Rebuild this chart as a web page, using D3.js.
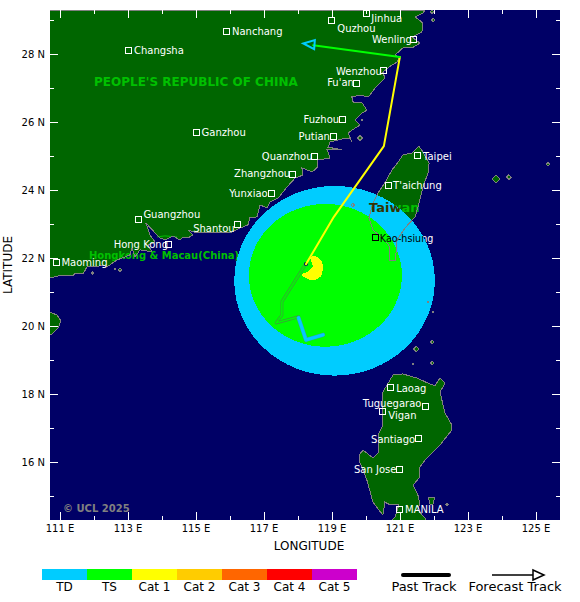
<!DOCTYPE html>
<html><head><meta charset="utf-8">
<script src="https://cdnjs.cloudflare.com/ajax/libs/d3/7.8.5/d3.min.js"></script>
<style>
html,body{margin:0;padding:0;background:#fff}
svg{display:block}
text{font-family:"DejaVu Sans",sans-serif}
</style></head><body>
<script>
// ---------- DATA (degrees) ----------
const mainland=[[110.72,21.41],[111.07,21.5],[111.4,21.47],[111.46,21.56],[111.69,21.53],[111.81,21.74],[112.04,21.74],[112.28,21.79],[112.4,21.74],[112.69,21.94],[113.07,22.09],[113.13,22.29],[113.22,22.03],[113.37,22.24],[113.72,22.18],[113.6,22.38],[113.81,22.47],[113.66,22.68],[113.54,23.03],[113.81,22.74],[113.96,22.59],[114.1,22.53],[114.34,22.65],[114.54,22.53],[114.6,22.59],[114.78,22.59],[114.93,22.68],[114.78,22.82],[115.04,22.74],[115.37,22.74],[115.63,22.74],[116.07,22.76],[116.31,22.88],[116.54,22.97],[116.6,23.18],[116.81,23.21],[116.9,23.56],[117.1,23.47],[117.19,23.65],[117.43,23.76],[117.69,24.09],[117.93,24.35],[118.16,24.44],[118.13,24.65],[118.43,24.53],[118.6,24.68],[118.6,24.88],[118.96,24.94],[118.87,25.18],[119.31,25.18],[118.9,25.26],[118.96,25.41],[119.31,25.5],[119.54,25.53],[119.6,25.41],[119.49,25.68],[119.69,25.82],[119.84,25.91],[119.69,26.06],[119.9,26.26],[120.04,26.35],[119.9,26.56],[119.63,26.59],[119.6,26.74],[119.84,26.79],[120.07,26.74],[120.13,26.79],[120.28,27.0],[120.43,27.15],[120.57,27.29],[120.51,27.47],[120.78,27.68],[120.93,27.76],[121.01,27.91],[120.87,27.97],[121.1,28.18],[121.37,28.18],[121.6,28.32],[121.37,28.5],[121.66,28.65],[121.69,28.91],[121.46,29.09],[121.69,29.21],[121.75,29.29],[110.72,29.29]];
const hainan=[[110.72,20.41],[110.93,20.32],[111.04,20.15],[110.96,19.94],[110.81,19.79],[110.72,19.73]];
const taiwan=[[121.57,25.29],[121.69,25.12],[121.87,24.79],[121.84,24.5],[121.69,24.09],[121.6,23.71],[121.46,23.21],[121.16,22.88],[120.93,22.53],[120.9,22.18],[120.87,21.94],[120.72,21.94],[120.69,22.38],[120.49,22.59],[120.22,22.82],[120.1,23.18],[120.22,23.62],[120.37,23.91],[120.57,24.21],[120.78,24.59],[120.96,24.82],[121.1,25.03],[121.37,25.09]];
const luzon=[[120.81,18.56],[121.1,18.59],[121.51,18.47],[121.84,18.32],[122.04,18.24],[122.19,18.47],[122.34,18.32],[122.19,18.06],[122.34,17.44],[122.54,17.09],[122.54,16.94],[122.19,16.5],[121.75,16.06],[121.6,15.85],[121.6,15.56],[121.4,15.32],[121.54,15.03],[121.6,14.79],[121.54,14.59],[121.75,14.35],[121.78,14.29],[120.78,14.29],[120.87,14.38],[120.98,14.74],[120.72,14.74],[120.57,14.82],[120.51,14.44],[120.22,14.82],[120.04,15.47],[119.84,15.97],[119.81,16.21],[119.93,16.35],[120.22,16.12],[120.37,16.26],[120.37,16.79],[120.51,17.09],[120.49,17.62],[120.51,18.06]];
const polillo=[[121.84,14.97],[122.04,14.97],[121.98,14.74],[121.9,14.76]];
const hkBoundary=[[113.87,22.62],[114.1,22.65],[114.46,22.62]];
const isletLon=[123.84,124.22,125.37,121.99,121.84,121.96,121.49,121.4,121.96,119.84,119.9,121.96,121.99,112.63,112.78,111.96,119.63,122.4];
const isletLat=[24.32,24.38,24.76,20.41,20.71,19.53,19.32,18.88,18.91,25.53,26.06,29.24,29.0,21.68,21.65,21.56,23.56,14.75];
const isletSize=[0.12,0.07,0.05,0.03,0.03,0.05,0.08,0.03,0.05,0.07,0.03,0.05,0.05,0.03,0.05,0.04,0.05,0.03];

const cityNames=["Jinhua","Quzhou","Wenling","Wenzhou","Fu'an","Fuzhou","Putian","Quanzhou","Zhangzhou","Yunxiao","Nanchang","Changsha","Ganzhou","Guangzhou","Shantou","Hong Kong","Maoming","Taipei","T'aichung","Kao-hsiung","Laoag","Tuguegarao","Vigan","Santiago","San Jose","MANILA"];
const cityLon=[120.04,119.01,121.41,120.53,119.74,119.31,119.06,118.51,117.84,117.24,115.91,113.03,115.03,113.32,116.24,114.21,110.91,121.53,120.68,120.29,120.74,121.76,120.51,121.56,121,121];
const cityLat=[29.2,29.0,28.43,27.5,27.12,26.07,25.56,25.0,24.47,23.91,28.66,28.1,25.69,23.12,22.99,22.4,21.87,25.01,24.13,22.6,18.19,17.63,17.49,16.69,15.78,14.6];
const labelDx=[4.5,5.5,-41.5,-47.5,-29.5,-38.5,-35,-53,-58,-42.5,5.5,5.5,5,5,-44.5,-55,5,5.5,4.5,4.5,5.5,-62.5,5.5,-47.5,-45.5,5.5];
const labelDy=[5,8.7,0,0,-1,-0.5,0,0,-1,0,0,0,-0.5,-5,4.5,0.5,0.5,0.5,0,0.5,0.5,-3.5,4.5,0.5,0.5,-0.5];

const tdCenter=[119.09,21.33], tdRadius=[2.95,2.79];
const tsCenter=[118.82,21.49], tsRadius=[2.25,2.10];
const cat1Crescent=[[118.46,22.06],[118.6,22.03],[118.72,21.88],[118.76,21.74],[118.7,21.47],[118.56,21.37],[118.37,21.35],[118.13,21.47],[118.13,21.53],[118.31,21.59],[118.46,21.76],[118.37,21.99]];

const pastTD=[[118.75,19.74],[118.25,19.59],[118.03,20.24]];
const pastTS=[[118.03,20.27],[117.37,20.09],[117.54,20.32],[117.54,20.71],[118.22,21.79]];
const forecastCat1=[[118.25,21.82],[119.07,23.21],[120.54,25.29],[121.01,27.91]];
const forecastTS=[[121.01,27.91],[118.46,28.26]];
const arrowHead=[[118.17,28.31],[118.51,28.41],[118.49,28.14]];
const eye=[118.25,21.82];

const lonMajor=[111,113,115,117,119,121,123,125];
const lonMinor=[112,114,116,118,120,122,124];
const latMajor=[16,18,20,22,24,26,28];
const latMinor=[15,17,19,21,23,25,27,29];

const legendCats=["TD","TS","Cat 1","Cat 2","Cat 3","Cat 4","Cat 5"];
const legendCols=["#00ccff","#00ff00","#ffff00","#ffcc00","#ff6600","#ff0000","#cc00cc"];

// ---------- SCALES ----------
const W=580,H=602;
const px0=50,px1=560,py0=10,py1=520;
const x=d3.scaleLinear().domain([111,125]).range([59.5,535.5]);
const y=d3.scaleLinear().domain([28,16]).range([54,462]);
const geo=d3.line().x(d=>x(d[0])).y(d=>y(d[1]));
const poly=p=>geo(p)+"Z";

const svg=d3.select("body").append("svg").attr("width",W).attr("height",H);
const defs=svg.append("defs");
defs.append("clipPath").attr("id","map").append("rect").attr("x",px0).attr("y",py0).attr("width",px1-px0).attr("height",py1-py0);
const ell=(sel,c,r)=>sel.attr("cx",x(c[0])).attr("cy",y(c[1])).attr("rx",x(c[0]+r[0])-x(c[0])).attr("ry",y(c[1]-r[1])-y(c[1]));
ell(defs.append("clipPath").attr("id","td").append("ellipse"),tdCenter,tdRadius);

svg.append("rect").attr("x",px0).attr("y",py0).attr("width",px1-px0).attr("height",py1-py0).attr("fill","#000066");
const map=svg.append("g").attr("clip-path","url(#map)");

const islets=isletLon.map((l,i)=>{const s=isletSize[i];return [[l-s,isletLat[i]],[l,isletLat[i]+s],[l+s,isletLat[i]],[l,isletLat[i]-s]];});
const lands=[mainland,hainan,taiwan,luzon,polillo,...islets];

map.append("g").selectAll("path").data(lands).join("path").attr("d",poly).attr("fill","#006600").attr("shape-rendering","crispEdges");

const green="#00c000";
map.append("path").attr("d",geo(hkBoundary)).attr("fill","none").attr("stroke",green);
map.append("text").attr("x",94).attr("y",85.5).attr("font-size",12).attr("font-weight","bold").attr("fill",green).text("PEOPLE'S REPUBLIC OF CHINA");
map.append("text").attr("x",89).attr("y",258.5).attr("font-size",10).attr("font-weight","bold").attr("fill",green).text("Hongkong & Macau(China)");
map.append("text").attr("x",369).attr("y",212).attr("font-size",13).attr("font-weight","bold").attr("fill",green).text("Taiwan");

// labels that the wind field covers: white beneath it, black where it overlaps
const underStorm=map.append("g");

// wind radii
ell(map.append("ellipse"),tdCenter,tdRadius).attr("fill","#00ccff").attr("shape-rendering","crispEdges");
ell(map.append("ellipse"),tsCenter,tsRadius).attr("fill","#00ff00").attr("shape-rendering","crispEdges");
map.append("path").attr("d",poly(cat1Crescent)).attr("fill","#ffff00").attr("shape-rendering","crispEdges");

// coast lines on top of wind field
map.append("g").selectAll("path").data(lands).join("path").attr("d",poly).attr("fill","none").attr("stroke","#808080").attr("stroke-width",1).attr("shape-rendering","crispEdges");
map.append("text").attr("x",369).attr("y",212).attr("font-size",13).attr("font-weight","bold").attr("fill","#333300").attr("clip-path","url(#td)").text("Taiwan");

// past track
const lineStroke=(pts,col,w)=>map.append("path").attr("d",geo(pts)).attr("fill","none").attr("stroke",col).attr("stroke-width",w).attr("stroke-linejoin","round").attr("stroke-linecap","round");
lineStroke(pastTS,"#33aa33",3);
lineStroke(pastTS,"#00ff00",1.4);
lineStroke(pastTD,"#3399cc",4);
lineStroke(pastTD,"#00ccff",3);
map.append("circle").attr("cx",x(eye[0])).attr("cy",y(eye[1])).attr("r",2).attr("fill","#000066");

// forecast track
lineStroke(forecastCat1,"#ffff00",2);
lineStroke(forecastTS,"#00ff00",2);
map.append("path").attr("d",poly(arrowHead)).attr("fill","none").attr("stroke","#00ccff").attr("stroke-width",2);

// cities
const cities=map.append("g");
cityNames.forEach((n,i)=>{
  const cx=x(cityLon[i]),cy=y(cityLat[i]);
  const overStorm=n==="Kao-hsiung";
  cities.append("rect").attr("x",Math.floor(cx)-3+0.5).attr("y",Math.floor(cy)-3+0.5).attr("width",6).attr("height",6).attr("fill","none").attr("stroke",overStorm?"#000000":"#ffffff").attr("stroke-width",1).attr("shape-rendering","crispEdges");
  const label=(parent,col)=>parent.append("text").attr("x",cx+labelDx[i]).attr("y",cy+labelDy[i]+3.5).attr("font-size",overStorm?9.6:10).attr("fill",col).text(n);
  if(overStorm){ label(underStorm,"#ffffff"); label(cities,"#000000").attr("clip-path","url(#td)"); }
  else label(cities,"#ffffff");
});

map.append("text").attr("x",63).attr("y",512).attr("font-size",10).attr("font-weight","bold").attr("fill","#808080").text("© UCL 2025");

// axes (ticks point into the map)
function styleAxis(g){g.select(".domain").remove();g.selectAll("line").attr("stroke","#ffffff").attr("shape-rendering","crispEdges");g.selectAll("text").attr("font-size",10).attr("fill","#000");g.attr("font-family",null);}
const lonFmt=d=>d+" E", latFmt=d=>d+" N";
svg.append("g").attr("transform",`translate(0,${py1})`).call(d3.axisBottom(x).tickValues(lonMajor).tickFormat(lonFmt).tickSizeInner(-8).tickSizeOuter(0).tickPadding(5)).call(styleAxis);
svg.append("g").attr("transform",`translate(0,${py1})`).call(d3.axisBottom(x).tickValues(lonMinor).tickFormat("").tickSizeInner(-4).tickSizeOuter(0)).call(styleAxis);
svg.append("g").attr("transform",`translate(0,${py0})`).call(d3.axisTop(x).tickValues(lonMajor).tickFormat("").tickSizeInner(-8).tickSizeOuter(0)).call(styleAxis);
svg.append("g").attr("transform",`translate(0,${py0})`).call(d3.axisTop(x).tickValues(lonMinor).tickFormat("").tickSizeInner(-4).tickSizeOuter(0)).call(styleAxis);
svg.append("g").attr("transform",`translate(${px0},0)`).call(d3.axisLeft(y).tickValues(latMajor).tickFormat(latFmt).tickSizeInner(-8).tickSizeOuter(0).tickPadding(5)).call(styleAxis);
svg.append("g").attr("transform",`translate(${px0},0)`).call(d3.axisLeft(y).tickValues(latMinor).tickFormat("").tickSizeInner(-4).tickSizeOuter(0)).call(styleAxis);
svg.append("g").attr("transform",`translate(${px1},0)`).call(d3.axisRight(y).tickValues(latMajor).tickFormat("").tickSizeInner(-8).tickSizeOuter(0)).call(styleAxis);
svg.append("g").attr("transform",`translate(${px1},0)`).call(d3.axisRight(y).tickValues(latMinor).tickFormat("").tickSizeInner(-4).tickSizeOuter(0)).call(styleAxis);

svg.append("text").attr("x",309).attr("y",550).attr("text-anchor","middle").attr("font-size",12).text("LONGITUDE");
svg.append("text").attr("transform","translate(12,265) rotate(-90)").attr("text-anchor","middle").attr("font-size",12).text("LATITUDE");

// legend
const band=d3.scaleBand().domain(legendCats).range([42,357]);
svg.append("g").selectAll("rect").data(legendCats).join("rect").attr("x",d=>band(d)).attr("y",569).attr("width",band.bandwidth()).attr("height",11).attr("fill",(d,i)=>legendCols[i]);
svg.append("g").selectAll("text").data(legendCats).join("text").attr("x",d=>band(d)+band.bandwidth()/2).attr("y",591).attr("text-anchor","middle").attr("font-size",12).attr("fill","#000").text(d=>d);

svg.append("line").attr("x1",403).attr("x2",449).attr("y1",575).attr("y2",575).attr("stroke","#000").attr("stroke-width",4).attr("stroke-linecap","round");
svg.append("text").attr("x",424).attr("y",591).attr("text-anchor","middle").attr("font-size",13).text("Past Track");
svg.append("line").attr("x1",492).attr("x2",533).attr("y1",575).attr("y2",575).attr("stroke","#000").attr("stroke-width",1.5);
svg.append("path").attr("d","M533,570L544,575L533,580Z").attr("fill","none").attr("stroke","#000").attr("stroke-width",1.5);
svg.append("text").attr("x",515).attr("y",591).attr("text-anchor","middle").attr("font-size",13).text("Forecast Track");
</script>
</body></html>
